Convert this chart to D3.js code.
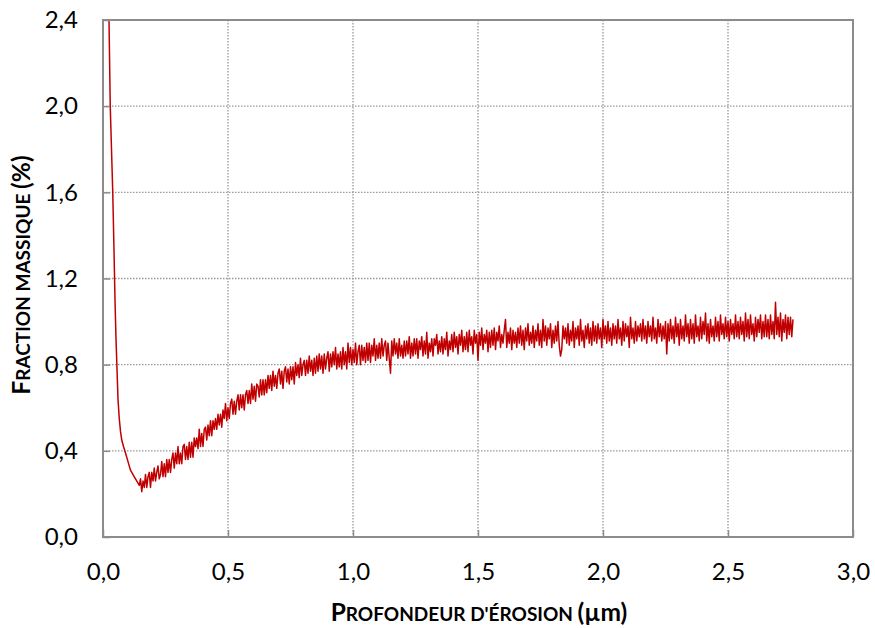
<!DOCTYPE html>
<html><head><meta charset="utf-8">
<script src="https://cdn.jsdelivr.net/npm/d3@7"></script>
<style>body{margin:0;background:#fff} svg{display:block}</style>
</head><body><svg id="c" width="875" height="628"></svg>
<script>
// ---- axis ticks ----
const xTicks = [0, 0.5, 1.0, 1.5, 2.0, 2.5, 3.0];
const yTicks = [0, 0.4, 0.8, 1.2, 1.6, 2.0, 2.4];

// ---- steep initial drop (depth µm, mass fraction %) ----
const dropDepth    = [0.024, 0.029, 0.034, 0.039, 0.044, 0.048, 0.052, 0.056, 0.060, 0.065, 0.070, 0.075, 0.082, 0.090, 0.100, 0.110, 0.120, 0.130, 0.140, 0.145];
const dropFraction = [2.40, 2.00, 1.80, 1.60, 1.33, 1.10, 0.92, 0.78, 0.64, 0.55, 0.49, 0.45, 0.42, 0.39, 0.35, 0.31, 0.29, 0.27, 0.25, 0.24];

// ---- noisy profile, sampled every 0.005 µm; each row starts at rowStart[i] ----
const sampleStep = 0.005;
const rowStart = [0.15,0.25,0.35,0.45,0.55,0.65,0.75,0.85,0.95,1.05,1.15,1.25,1.35,1.45,1.55,1.65,1.75,1.85,1.95,2.05,2.15,2.25,2.35,2.45,2.55,2.65,2.75];
const rowFraction = [
 [.27,.21,.26,.23,.29,.23,.28,.30,.23,.30,.26,.32,.26,.30,.33,.27,.29,.35,.28,.34],
 [.28,.36,.30,.36,.30,.36,.39,.32,.39,.34,.42,.34,.39,.34,.42,.43,.36,.42,.36,.44],
 [.37,.44,.37,.46,.42,.46,.41,.50,.42,.48,.42,.50,.51,.45,.52,.47,.54,.47,.54,.50],
 [.55,.50,.57,.52,.57,.51,.59,.55,.62,.54,.60,.55,.62,.64,.57,.63,.57,.63,.66,.59],
 [.66,.60,.66,.59,.66,.68,.62,.68,.62,.71,.64,.70,.63,.71,.70,.65,.73,.66,.73,.66],
 [.73,.67,.75,.69,.75,.68,.77,.70,.75,.69,.76,.78,.71,.77,.69,.77,.79,.72,.78,.71],
 [.79,.73,.79,.71,.81,.75,.80,.74,.83,.75,.80,.82,.75,.82,.76,.84,.77,.82,.75,.83],
 [.76,.84,.77,.85,.78,.84,.76,.85,.78,.83,.86,.77,.85,.79,.86,.80,.88,.78,.85,.79],
 [.86,.78,.88,.80,.86,.78,.90,.81,.88,.80,.87,.81,.90,.80,.86,.89,.80,.89,.82,.88],
 [.81,.90,.82,.90,.81,.89,.84,.92,.82,.89,.83,.90,.83,.92,.84,.89,.91,.82,.90,.83],
 [.76,.91,.84,.92,.85,.90,.83,.92,.84,.89,.83,.91,.84,.91,.85,.93,.83,.90,.84,.92],
 [.85,.92,.83,.91,.87,.93,.84,.91,.85,.95,.83,.90,.86,.92,.84,.92,.89,.94,.85,.91],
 [.86,.93,.85,.92,.87,.95,.84,.91,.87,.94,.86,.95,.88,.93,.85,.94,.89,.96,.86,.93],
 [.87,.95,.86,.96,.89,.93,.85,.96,.90,.94,.82,.95,.89,.97,.87,.94,.90,.96,.86,.95],
 [.88,.96,.89,.97,.87,.95,.91,.98,.88,.94,.90,.96,1.01,.88,.95,.90,.97,.87,.96,.90],
 [.95,.88,.97,.90,.98,.89,.96,.87,.97,.91,.99,.89,.95,.90,.98,.88,.96,.91,.99,.89],
 [.96,.88,1.01,.91,.98,.89,.97,.92,.99,.88,.96,.90,.98,.91,1.00,.89,.84,.87,.98,.92],
 [.97,.90,.99,.89,.96,.91,1.00,.88,.97,.92,.98,.89,1.01,.91,.96,.88,.98,.92,.99,.90],
 [.97,.89,1.00,.91,.98,.90,.99,.92,.97,.88,1.01,.92,.98,.90,1.00,.91,.97,.89,.99,.92],
 [.98,.90,1.01,.92,.97,.89,1.00,.91,.99,.93,.98,.88,1.02,.92,.97,.90,1.00,.91,.98,.93],
 [.99,.91,1.01,.92,.98,.90,1.00,.93,.98,.91,1.02,.92,.97,.90,1.01,.93,.99,.91,.98,.92],
 [1.00,.85,.99,.91,1.01,.92,.98,.90,1.02,.93,.99,.89,1.01,.92,.98,.91,1.03,.93,.99,.90],
 [1.01,.92,.99,.90,1.03,.93,.98,.91,1.02,.92,1.00,.94,1.04,.91,.99,.90,1.01,.93,.98,.91],
 [1.02,.93,1.00,.91,1.03,.94,.99,.92,1.02,.93,1.00,.91,1.01,.94,.99,.92,1.03,.93,1.00,.92],
 [1.02,.94,1.00,.91,1.04,.93,1.01,.92,1.03,.94,.99,.91,1.02,.93,1.01,.95,1.03,.92,1.00,.93],
 [1.03,.93,1.01,.92,1.03,.94,1.00,.92,1.09,.94,1.02,.93,1.04,.91,1.01,.95,1.03,.92,1.02,.94],
 [1.02,.93,1.01]
];

const xLabelText = "Profondeur d'érosion (µm)";
const yLabelText = "Fraction massique (%)";

// ---- build series ----
const points = dropDepth.map((d, i) => [d, dropFraction[i]]);
rowFraction.forEach((row, r) => row.forEach((v, j) => points.push([rowStart[r] + j * sampleStep, v])));

// ---- layout ----
const svg = d3.select("#c");
const L = 103, R = 853, T = 20, B = 537;
const x = d3.scaleLinear().domain([0, 3]).range([L, R]);
const y = d3.scaleLinear().domain([0, 2.4]).range([B, T]);
const grey = "#8c8c8c";
const fmt = d => d3.format(".1f")(d).replace(".", ",");
const font = "Lato, Carlito, 'Open Sans', sans-serif";

// gridlines
svg.append("g").selectAll("line").data(xTicks.slice(1, -1)).join("line")
  .attr("x1", d => x(d)).attr("x2", d => x(d)).attr("y1", T).attr("y2", B)
  .attr("stroke", "#999").attr("stroke-width", 1.3).attr("stroke-dasharray", "1.5,1.5");
svg.append("g").selectAll("line").data(yTicks.slice(1, -1)).join("line")
  .attr("y1", d => y(d)).attr("y2", d => y(d)).attr("x1", L).attr("x2", R)
  .attr("stroke", "#999").attr("stroke-width", 1.3).attr("stroke-dasharray", "1.5,1.5");

// data line
svg.append("path").datum(points)
  .attr("fill", "none").attr("stroke", "#c00000").attr("stroke-width", 1.5)
  .attr("stroke-linejoin", "round")
  .attr("d", d3.line().x(d => x(d[0])).y(d => y(d[1])));

// axes (inside ticks)
const xAxis = svg.append("g").attr("transform", `translate(0,${B})`)
  .call(d3.axisBottom(x).tickValues(xTicks).tickFormat(fmt).tickSizeInner(-7).tickSizeOuter(0).tickPadding(24));
const yAxis = svg.append("g").attr("transform", `translate(${L},0)`)
  .call(d3.axisLeft(y).tickValues(yTicks).tickFormat(fmt).tickSizeInner(-7).tickSizeOuter(0).tickPadding(25));
[xAxis, yAxis].forEach(g => {
  g.select(".domain").remove();
  g.selectAll(".tick line").attr("stroke", grey).attr("stroke-width", 1.5);
  g.selectAll("text").attr("font-family", font).attr("font-size", 24).attr("fill", "#000");
});
xAxis.selectAll("text").attr("dy", "0.35em").attr("y", 35);

// frame
svg.append("rect").attr("x", L).attr("y", T).attr("width", R - L).attr("height", B - T)
  .attr("fill", "none").attr("stroke", grey).attr("stroke-width", 2);

// small-caps titles
function smallCaps(sel, text, big, small) {
  const words = text.split(/(\([^)]*\))/);
  words.forEach(w => {
    if (!w) return;
    if (w.startsWith("(")) { sel.append("tspan").attr("font-size", big).text(w); return; }
    let buf = "", bufUpper = null;
    const flush = () => { if (buf) sel.append("tspan").attr("font-size", bufUpper ? big : small).text(bufUpper ? buf : buf.toUpperCase()); buf = ""; };
    for (const ch of w) {
      const up = ch !== ch.toLowerCase();
      if (bufUpper !== null && up !== bufUpper) flush();
      bufUpper = up; buf += ch;
    }
    flush();
  });
}
const xt = svg.append("text").attr("x", 479).attr("y", 621).attr("text-anchor", "middle")
  .attr("font-family", font).attr("font-weight", "bold").attr("fill", "#000");
smallCaps(xt, xLabelText, 24.5, 19);
const yt = svg.append("text").attr("transform", "translate(30,275) rotate(-90)").attr("text-anchor", "middle")
  .attr("font-family", font).attr("font-weight", "bold").attr("fill", "#000");
smallCaps(yt, yLabelText, 24.5, 19);
</script></body></html>
